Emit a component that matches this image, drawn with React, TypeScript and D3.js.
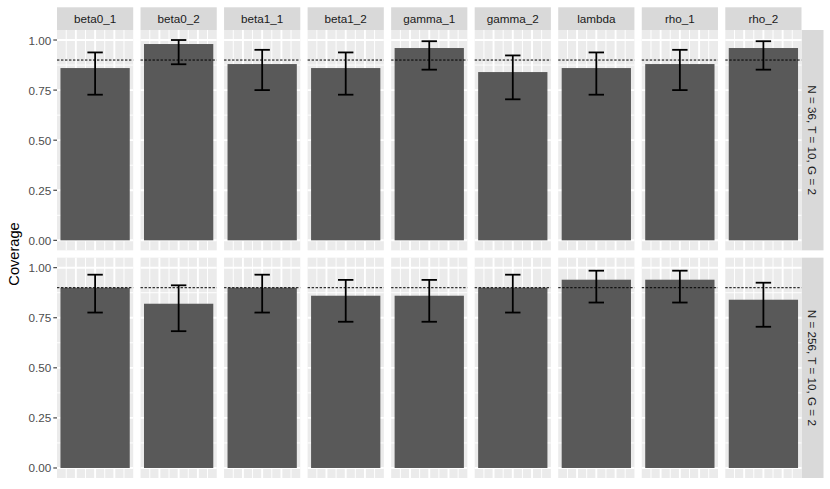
import React, { useEffect, useRef } from 'react';
import * as d3 from 'd3';

// Facet columns (parameters) and facet rows (simulation settings)
const params = ['beta0_1', 'beta0_2', 'beta1_1', 'beta1_2', 'gamma_1', 'gamma_2', 'lambda', 'rho_1', 'rho_2'];
const settings = ['N = 36, T = 10, G = 2', 'N = 256, T = 10, G = 2'];

// Coverage estimates and interval bounds
const coverageN36 = [0.86, 0.98, 0.88, 0.86, 0.96, 0.84, 0.86, 0.88, 0.96];
const lowerN36 = [0.727, 0.879, 0.75, 0.727, 0.852, 0.704, 0.727, 0.75, 0.852];
const upperN36 = [0.938, 1.0, 0.951, 0.938, 0.994, 0.923, 0.938, 0.951, 0.994];

const coverageN256 = [0.9, 0.82, 0.9, 0.86, 0.86, 0.9, 0.94, 0.94, 0.84];
const lowerN256 = [0.776, 0.683, 0.776, 0.73, 0.73, 0.776, 0.826, 0.826, 0.705];
const upperN256 = [0.965, 0.912, 0.965, 0.939, 0.939, 0.965, 0.985, 0.985, 0.925];

const nominal = 0.9;
const yTicks = [0, 0.25, 0.5, 0.75, 1];
const yMinor = [0.125, 0.375, 0.625, 0.875];
const xMajor = [0.75, 1, 1.25];
const xMinor = [0.625, 0.875, 1.125, 1.375];

const App = () => {
    const svgRef = useRef<SVGSVGElement | null>(null);

    useEffect(() => {
        const width = 830;
        const height = 489;
        const font = '"Liberation Sans", Arial, Helvetica, sans-serif';

        const rows = [
            { coverage: coverageN36, lower: lowerN36, upper: upperN36 },
            { coverage: coverageN256, lower: lowerN256, upper: upperN256 },
        ];

        const svg = d3.select(svgRef.current);
        svg.selectAll('*').remove();
        svg.attr('width', width).attr('height', height);

        svg.append('rect').attr('width', width).attr('height', height).attr('fill', '#ffffff');

        const panelLeft = 57;
        const panelRight = 801.5;
        const panelTop = 30;
        const panelBottom = 478;
        const gap = 7.33;

        // paddingInner chosen so the space between panels is exactly `gap`
        const colBand = d3.scaleBand<string>()
            .domain(params)
            .range([panelLeft, panelRight])
            .paddingInner(gap * params.length / (panelRight - panelLeft + gap));
        const rowBand = d3.scaleBand<string>()
            .domain(settings)
            .range([panelTop, panelBottom])
            .paddingInner(gap * settings.length / (panelBottom - panelTop + gap));

        const pw = colBand.bandwidth();
        const ph = rowBand.bandwidth();

        // x is continuous inside each panel: bar at 1 with width 0.9, plus 5% expansion
        const xScale = d3.scaleLinear().domain([0.505, 1.495]).range([0, pw]);
        const yScale = d3.scaleLinear().domain([-0.05, 1.05]).range([ph, 0]);

        // Top strips
        params.forEach(p => {
            const x0 = colBand(p)!;
            svg.append('rect')
                .attr('x', x0).attr('y', 7.3)
                .attr('width', pw).attr('height', panelTop - 7.3)
                .attr('fill', '#d9d9d9');
            svg.append('text')
                .attr('x', x0 + pw / 2).attr('y', 18.7)
                .attr('text-anchor', 'middle')
                .attr('dominant-baseline', 'central')
                .style('font-family', font).style('font-size', '11.7px')
                .style('fill', '#1a1a1a')
                .text(p);
        });

        settings.forEach((s, ri) => {
            const y0 = rowBand(s)!;
            const row = rows[ri];

            // Right strip
            svg.append('rect')
                .attr('x', panelRight).attr('y', y0)
                .attr('width', 22).attr('height', ph)
                .attr('fill', '#d9d9d9');
            svg.append('text')
                .attr('transform', `translate(${panelRight + 11}, ${y0 + ph / 2}) rotate(90)`)
                .attr('text-anchor', 'middle')
                .attr('dominant-baseline', 'central')
                .style('font-family', font).style('font-size', '11.7px')
                .style('fill', '#1a1a1a')
                .text(s);

            // Y axis for each row
            const axis = svg.append('g').attr('transform', `translate(${panelLeft}, ${y0})`);
            yTicks.forEach(t => {
                axis.append('line')
                    .attr('x1', -3.7).attr('x2', 0)
                    .attr('y1', yScale(t)).attr('y2', yScale(t))
                    .attr('stroke', '#333333').attr('stroke-width', 1.07);
                axis.append('text')
                    .attr('x', -5.8).attr('y', yScale(t))
                    .attr('text-anchor', 'end')
                    .attr('dominant-baseline', 'central')
                    .style('font-family', font).style('font-size', '11.7px')
                    .style('fill', '#4d4d4d')
                    .text(d3.format('.2f')(t));
            });

            params.forEach((p, ci) => {
                const g = svg.append('g').attr('transform', `translate(${colBand(p)}, ${y0})`);

                g.append('rect').attr('width', pw).attr('height', ph).attr('fill', '#ebebeb');

                yMinor.forEach(t => {
                    g.append('line').attr('x1', 0).attr('x2', pw)
                        .attr('y1', yScale(t)).attr('y2', yScale(t))
                        .attr('stroke', '#ffffff').attr('stroke-width', 0.95);
                });
                xMinor.forEach(t => {
                    g.append('line').attr('y1', 0).attr('y2', ph)
                        .attr('x1', xScale(t)).attr('x2', xScale(t))
                        .attr('stroke', '#ffffff').attr('stroke-width', 0.95);
                });
                yTicks.forEach(t => {
                    g.append('line').attr('x1', 0).attr('x2', pw)
                        .attr('y1', yScale(t)).attr('y2', yScale(t))
                        .attr('stroke', '#ffffff').attr('stroke-width', 1.9);
                });
                xMajor.forEach(t => {
                    g.append('line').attr('y1', 0).attr('y2', ph)
                        .attr('x1', xScale(t)).attr('x2', xScale(t))
                        .attr('stroke', '#ffffff').attr('stroke-width', 1.9);
                });

                const value = row.coverage[ci];
                g.append('rect')
                    .attr('x', xScale(0.55))
                    .attr('y', yScale(value))
                    .attr('width', xScale(1.45) - xScale(0.55))
                    .attr('height', yScale(0) - yScale(value))
                    .attr('fill', '#595959');

                // Nominal level
                g.append('line')
                    .attr('x1', 0).attr('x2', pw)
                    .attr('y1', yScale(nominal)).attr('y2', yScale(nominal))
                    .attr('stroke', '#000000').attr('stroke-width', 1)
                    .attr('stroke-dasharray', '2.4,1.6');

                // Error bar
                const lo = yScale(row.lower[ci]);
                const hi = yScale(row.upper[ci]);
                const errStyle = (sel) => sel.attr('stroke', '#000000').attr('stroke-width', 1.8);
                errStyle(g.append('line').attr('x1', xScale(1)).attr('x2', xScale(1)).attr('y1', lo).attr('y2', hi));
                errStyle(g.append('line').attr('x1', xScale(0.9)).attr('x2', xScale(1.1)).attr('y1', lo).attr('y2', lo));
                errStyle(g.append('line').attr('x1', xScale(0.9)).attr('x2', xScale(1.1)).attr('y1', hi).attr('y2', hi));
            });
        });

        // Y axis title
        svg.append('text')
            .attr('transform', `translate(13.5, ${(panelTop + panelBottom) / 2}) rotate(-90)`)
            .attr('text-anchor', 'middle')
            .attr('dominant-baseline', 'central')
            .style('font-family', font).style('font-size', '14.6px')
            .style('fill', '#000000')
            .text('Coverage');
    }, []);

    return (
        <div style={{ position: 'absolute', left: 0, top: 0 }}>
            <svg ref={svgRef} style={{ display: 'block' }}></svg>
        </div>
    );
};

export default App;
